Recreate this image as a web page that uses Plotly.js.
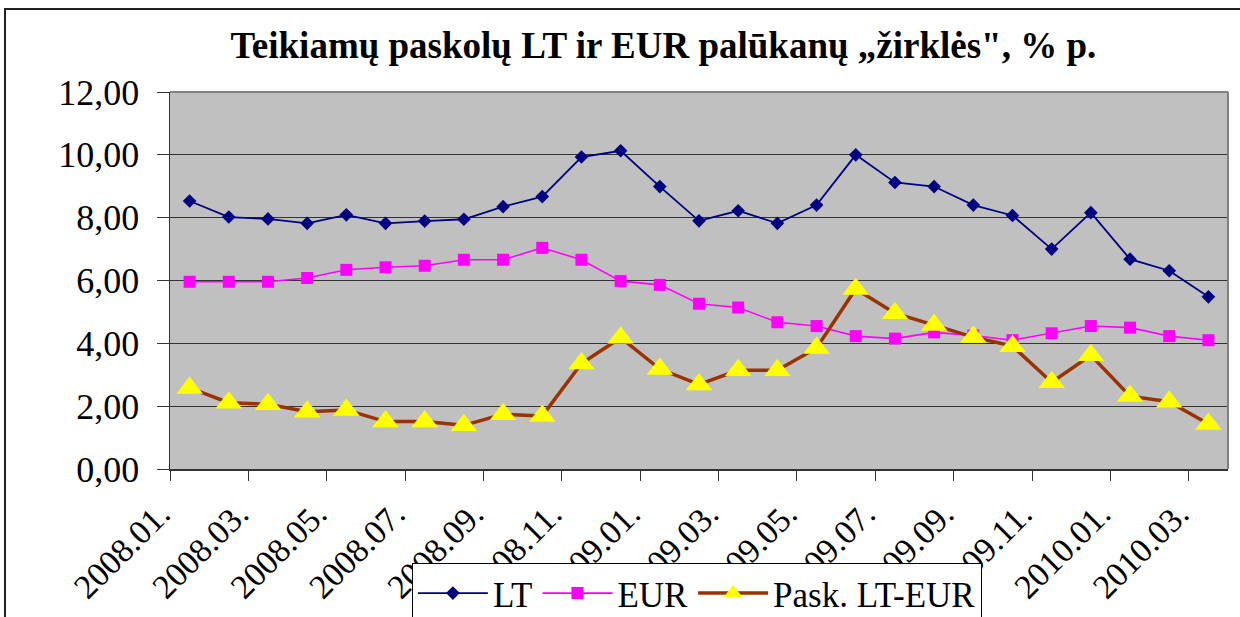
<!DOCTYPE html>
<html>
<head>
<meta charset="utf-8">
<script src="https://cdn.plot.ly/plotly-3.0.1.min.js"></script>
<style>
  html, body { margin: 0; padding: 0; background: #fff; overflow: hidden; }
  #chart { width: 1240px; height: 617px; position: absolute; left: 0; top: 0; }
  #frame { position: absolute; left: 4px; top: 8px; width: 1300px; height: 700px; border: 2px solid #222; pointer-events: none; }
</style>
</head>
<body>
<div id="chart"></div>
<div id="frame"></div>
<script>
const months = ["2008.01.","2008.02.","2008.03.","2008.04.","2008.05.","2008.06.","2008.07.","2008.08.","2008.09.","2008.10.","2008.11.","2008.12.",
  "2009.01.","2009.02.","2009.03.","2009.04.","2009.05.","2009.06.","2009.07.","2009.08.","2009.09.","2009.10.","2009.11.","2009.12.",
  "2010.01.","2010.02.","2010.03."];
const lt   = [8.53, 8.02, 7.96, 7.82, 8.09, 7.82, 7.89, 7.95, 8.35, 8.67, 9.93, 10.13, 8.99, 7.90, 8.22, 7.82, 8.40, 10.00, 9.12, 8.99, 8.40, 8.07, 7.00, 8.16, 6.68, 6.31, 5.48];
const eur  = [5.96, 5.96, 5.96, 6.08, 6.34, 6.42, 6.47, 6.66, 6.66, 7.04, 6.66, 5.98, 5.86, 5.26, 5.14, 4.67, 4.55, 4.23, 4.15, 4.35, 4.25, 4.10, 4.32, 4.55, 4.50, 4.23, 4.10];
const pask = [2.58, 2.11, 2.06, 1.82, 1.88, 1.51, 1.51, 1.39, 1.74, 1.69, 3.36, 4.18, 3.18, 2.69, 3.14, 3.14, 3.85, 5.73, 4.96, 4.58, 4.20, 3.91, 2.76, 3.62, 2.32, 2.14, 1.43];
const yTicks = [0, 2, 4, 6, 8, 10, 12];
const yTickText = ["0,00", "2,00", "4,00", "6,00", "8,00", "10,00", "12,00"];

const xIdx = months.map((m, i) => i);
// labels every second month, placed at the left boundary of their category (as in the original)
const tickIdx = months.map((m, i) => i).filter(i => i % 2 === 0);
const tickVals = tickIdx.map(i => i - 0.5);
const tickText = tickIdx.map(i => months[i]);

const serif = "'Liberation Serif', 'Times New Roman', serif";

const traces = [
  { x: xIdx, y: lt, name: "LT", type: "scatter", mode: "lines+markers",
    line: { color: "#000080", width: 1.8 },
    marker: { symbol: "diamond", size: 10.5, color: "#000080" } },
  { x: xIdx, y: eur, name: "EUR", type: "scatter", mode: "lines+markers",
    line: { color: "#FF00FF", width: 1.6 },
    marker: { symbol: "square", size: 12, color: "#FF00FF" } },
  { x: xIdx, y: pask, name: "Pask. LT-EUR", type: "scatter", mode: "lines+markers",
    line: { color: "#993300", width: 3.5 },
    marker: { symbol: "triangle-up", size: 23, color: "#FFFF00" } }
];

const layout = {
  width: 1240, height: 617,
  margin: { l: 170, r: 12, t: 92, b: 148, autoexpand: false },
  paper_bgcolor: "#ffffff",
  plot_bgcolor: "#C0C0C0",
  font: { family: serif, color: "#000", size: 30 },
  title: { text: "<b>Teikiamų paskolų LT ir EUR palūkanų „žirklės\", % p.</b>",
           font: { family: serif, size: 37, color: "#000" },
           x: 0.535, xanchor: "center", y: 0.927, yanchor: "middle" },
  xaxis: {
    range: [-0.5, months.length - 0.5],
    tickmode: "array", tickvals: tickVals, ticktext: tickText,
    tickangle: -45, ticks: "outside", ticklen: 10, tickcolor: "#333",
    ticklabelshift: -10,
    tickfont: { family: serif, size: 34, color: "#000" },
    showgrid: false, zeroline: false, automargin: false,
    showline: true, linecolor: "#333", linewidth: 1.5,
    fixedrange: true
  },
  yaxis: {
    range: [0, 12],
    tickmode: "array", tickvals: yTicks, ticktext: yTickText,
    ticks: "outside", ticklen: 12, tickcolor: "#333",
    ticklabelstandoff: 10, automargin: false,
    tickfont: { family: serif, size: 36, color: "#000" },
    showgrid: true, gridcolor: "#333", gridwidth: 1.2,
    zeroline: false,
    showline: true, linecolor: "#333", linewidth: 1.5,
    fixedrange: true
  },
  shapes: [
    { type: "line", xref: "paper", yref: "paper", x0: 0, x1: 1, y0: 1, y1: 1, line: { color: "#808080", width: 2 } },
    { type: "line", xref: "paper", yref: "paper", x0: 1, x1: 1, y0: 0, y1: 1, line: { color: "#808080", width: 2 } }
  ],
  showlegend: true,
  legend: {
    orientation: "h", x: 0.498, xanchor: "center", y: -0.249, yanchor: "top",
    bgcolor: "#ffffff", bordercolor: "#000", borderwidth: 1,
    font: { family: serif, size: 35, color: "#000" },
    itemwidth: 70
  }
};

Plotly.newPlot("chart", traces, layout, { staticPlot: true, displayModeBar: false });
</script>
</body>
</html>
